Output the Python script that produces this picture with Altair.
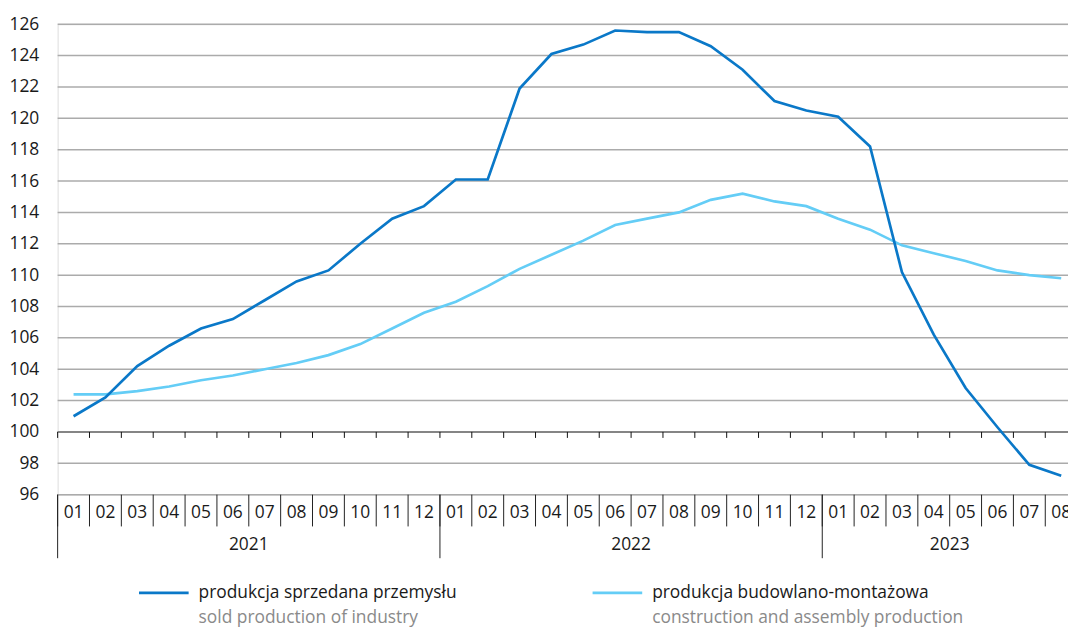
import altair as alt
import pandas as pd

months = ["01", "02", "03", "04", "05", "06", "07", "08", "09", "10", "11", "12",
          "01", "02", "03", "04", "05", "06", "07", "08", "09", "10", "11", "12",
          "01", "02", "03", "04", "05", "06", "07", "08"]
years = ["2021", "2022", "2023"]
year_pos = [6, 18, 28]
y_ticks = list(range(96, 127, 2))

industry = [101.0, 102.2, 104.2, 105.5, 106.6, 107.2, 108.4, 109.6, 110.3, 112.0, 113.6, 114.4,
            116.1, 116.1, 121.9, 124.1, 124.7, 125.6, 125.5, 125.5, 124.6, 123.1, 121.1, 120.5,
            120.1, 118.2, 110.2, 106.2, 102.8, 100.3, 97.9, 97.2]
construction = [102.4, 102.4, 102.6, 102.9, 103.3, 103.6, 104.0, 104.4, 104.9, 105.6, 106.6, 107.6,
                108.3, 109.3, 110.4, 111.3, 112.2, 113.2, 113.6, 114.0, 114.8, 115.2, 114.7, 114.4,
                113.6, 112.9, 111.9, 111.4, 110.9, 110.3, 110.0, 109.8]

series_pl = ["produkcja sprzedana przemysłu", "produkcja budowlano-montażowa"]
series_en = ["sold production of industry", "construction and assembly production"]
colors = ["#0a78c8", "#64cdf6"]

FONT = "Open Sans"
FS = 17.5
W, H = 1018, 474
XMAX = W / 32.1

xs = alt.Scale(domain=[0, XMAX], nice=False, zero=False)
ys = alt.Scale(domain=[96, 126], nice=False, zero=False)
yaxis = alt.Axis(values=y_ticks, grid=False, domain=False, ticks=False, labelOverlap=False,
                 labelFont=FONT, labelFontSize=FS, labelColor="#1a1a1a", labelPadding=19,
                 title=None)


def X(field):
    return alt.X(field, scale=xs, axis=None)


def Y(field):
    return alt.Y(field, scale=ys, axis=yaxis)


df_ind = pd.DataFrame({"x": [i + 0.5 for i in range(len(months))], "v": industry})
df_con = pd.DataFrame({"x": [i + 0.5 for i in range(len(months))], "v": construction})

grid = alt.Chart(pd.DataFrame({"v": y_ticks})).mark_rule(
    color="#ababab", strokeWidth=1.5).encode(y=Y("v:Q"))

axis100 = alt.Chart(pd.DataFrame({"v": [100]})).mark_rule(color="#858585", strokeWidth=2).encode(
    y=Y("v:Q"))

bounds = pd.DataFrame({"x": list(range(0, 33)), "a": [100] * 33, "b": [99.62] * 33})
ticks100 = alt.Chart(bounds).mark_rule(color="#111111", strokeWidth=1).encode(
    x=X("x:Q"), y=Y("a:Q"), y2="b:Q")

month_sep = alt.Chart(bounds).mark_rule(color="#222222", strokeWidth=1).encode(
    x=X("x:Q"), y=alt.value(H), y2=alt.value(H + 32))
year_sep = alt.Chart(pd.DataFrame({"x": [0, 12, 24, 36]})).mark_rule(color="#222222", strokeWidth=1).encode(
    x=X("x:Q"), y=alt.value(H), y2=alt.value(H + 64))

mdf = pd.DataFrame({"x": [i + 0.5 for i in range(len(months))], "t": months})
month_txt = alt.Chart(mdf).mark_text(font=FONT, fontSize=FS, color="#1a1a1a", baseline="middle").encode(
    x=X("x:Q"), y=alt.value(H + 18), text="t:N")
ydf = pd.DataFrame({"x": year_pos, "t": years})
year_txt = alt.Chart(ydf).mark_text(font=FONT, fontSize=FS, color="#1a1a1a", baseline="middle").encode(
    x=X("x:Q"), y=alt.value(H + 51), text="t:N")

lines_light = alt.Chart(df_con).mark_line(strokeWidth=2.7, color=colors[1]).encode(
    x=X("x:Q"), y=Y("v:Q"))
lines_dark = alt.Chart(df_ind).mark_line(strokeWidth=2.7, color=colors[0]).encode(
    x=X("x:Q"), y=Y("v:Q"))

# legend
leg_x = [82, 539]
ldf = pd.DataFrame({"pl": series_pl, "en": series_en})
leg_layers = []
for k in range(2):
    sub = ldf.iloc[[k]]
    leg_layers.append(alt.Chart(sub).mark_rule(color=colors[k], strokeWidth=2.7).encode(
        x=alt.value(leg_x[k]), x2=alt.value(leg_x[k] + 50), y=alt.value(H + 99)))
    leg_layers.append(alt.Chart(sub).mark_text(
        font=FONT, fontSize=FS, color="#1a1a1a", align="left", baseline="middle").encode(
        x=alt.value(leg_x[k] + 60), y=alt.value(H + 99), text="pl:N"))
    leg_layers.append(alt.Chart(sub).mark_text(
        font=FONT, fontSize=FS, color="#8a8a8a", align="left", baseline="middle").encode(
        x=alt.value(leg_x[k] + 60), y=alt.value(H + 124), text="en:N"))

chart = alt.layer(grid, axis100, ticks100, month_sep, year_sep, month_txt, year_txt,
                  lines_light, lines_dark, *leg_layers).properties(
    width=W, height=H,
    autosize=alt.AutoSizeParams(type="none"),
    padding={"left": 50, "top": 14, "right": 0, "bottom": 134},
).configure_view(stroke=None).configure(background="white")

chart.save("out.html", embed_options={"renderer": "svg", "actions": False})
